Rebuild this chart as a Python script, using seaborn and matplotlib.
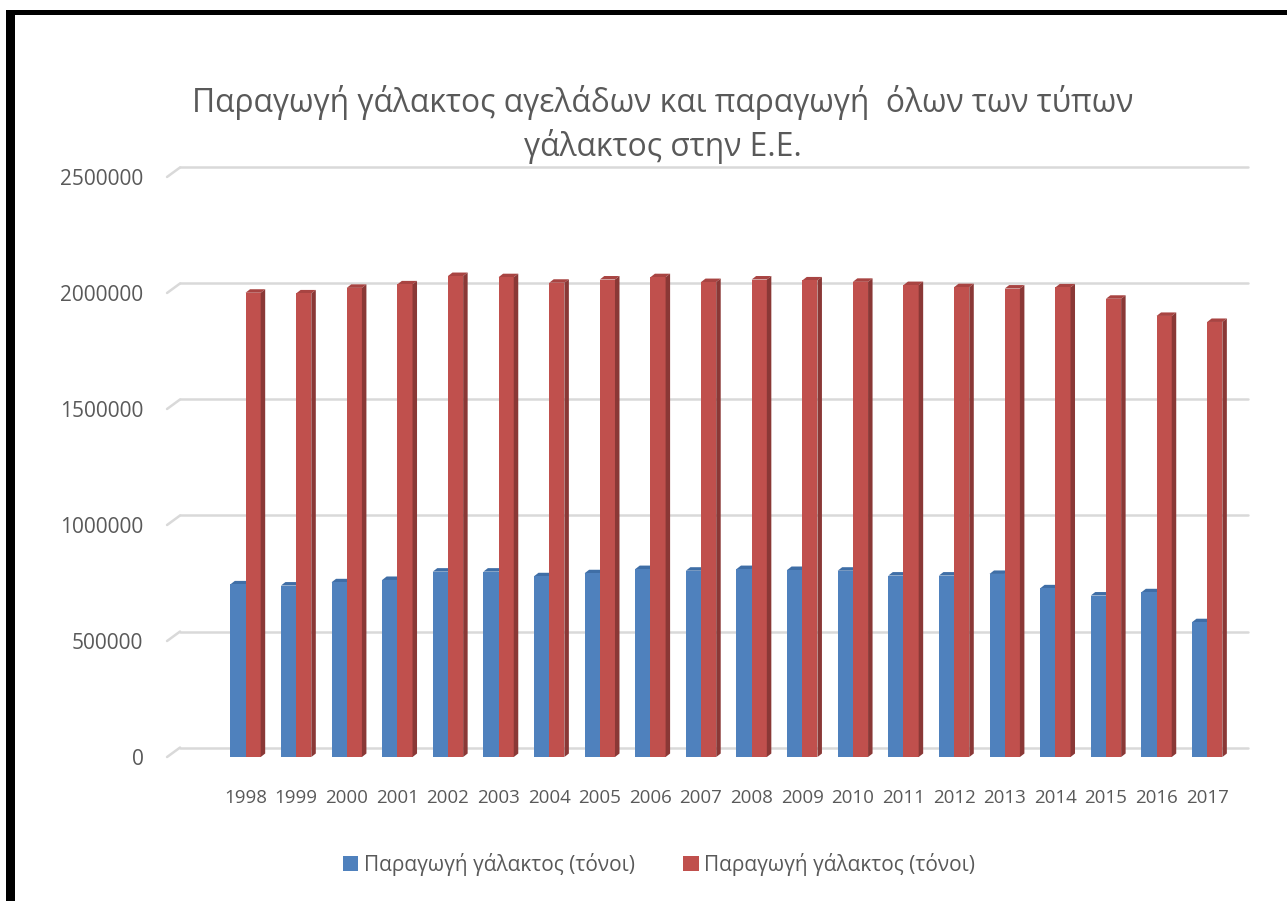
import numpy as np
import pandas as pd
import matplotlib
matplotlib.use("Agg")
import matplotlib.pyplot as plt
from matplotlib.patches import Polygon, Rectangle
from matplotlib.lines import Line2D
import seaborn as sns

# ── Data (tonnes) ───────────────────────────────────────────
years = [str(y) for y in range(1998, 2018)]
cow_milk = [744000, 739000, 753000, 763000, 799000, 799000, 779000, 792000,
            810000, 803000, 810000, 806000, 803000, 782000, 782000, 789000,
            727000, 696000, 710000, 581000]
all_milk = [2001000, 1998000, 2022000, 2037000, 2073000, 2068000, 2044000,
            2058000, 2068000, 2047000, 2058000, 2054000, 2048000, 2034000,
            2025000, 2019000, 2024000, 1975000, 1901000, 1875000]
series_label = "Παραγωγή γάλακτος (τόνοι)"
title = ("Παραγωγή γάλακτος αγελάδων και παραγωγή  όλων των τύπων\n"
         "γάλακτος στην Ε.Ε.")
y_ticks = [0, 500000, 1000000, 1500000, 2000000, 2500000]

df = pd.DataFrame({
    "year": years * 2,
    "value": cow_milk + all_milk,
    "series": ["cow"] * len(years) + ["all"] * len(years),
})

# ── Style ────────────────────────────────────────────────────
sns.set_theme(style="white")
plt.rcParams["font.family"] = ["Open Sans", "DejaVu Sans"]
TXT = "#595959"
BLUE, RED = "#4F81BD", "#C0504D"
SIDE = {BLUE: "#3A6391", RED: "#8A3836"}
TOP = {BLUE: "#3F6EA6", RED: "#A84442"}

fig = plt.figure(figsize=(12.87, 9.01), dpi=100)
ax = fig.add_axes([0.1298, 0.1598, 0.9596 - 0.1298, 0.8036 - 0.1598])

sns.barplot(data=df, x="year", y="value", hue="series", palette=[BLUE, RED],
            width=0.6, saturation=1, linewidth=0, ax=ax)

ax.set_xlim(-1.55, 19.55)
ax.set_ylim(0, 2500000)
ax.set_yticks(y_ticks)
ax.set_yticklabels([str(v) for v in y_ticks])
ax.set_xlabel("")
ax.set_ylabel("")
ax.tick_params(axis="y", labelsize=15, colors=TXT, length=0, pad=17)
ax.tick_params(axis="x", labelsize=13.5, colors=TXT, length=0, pad=23)
sns.despine(ax=ax, left=True, bottom=True)

# ── pseudo-3D: side and top faces of each bar ────────────────
# (blue side face sits behind the red bar, so only red gets one)
dx = 4.5 / 50.6          # ~4.5 px in category units
dy = 3.5 / 232 * 1e6     # ~3.5 px in value units
for p in ax.patches:
    if p.get_height() <= 0:
        continue
    x0, w, h = p.get_x(), p.get_width(), p.get_height()
    col = matplotlib.colors.to_hex(p.get_facecolor())
    z = p.get_zorder()
    if col == RED.lower():
        ax.add_patch(Polygon([(x0 + w, 0), (x0 + w + dx, dy), (x0 + w + dx, h + dy),
                              (x0 + w, h)], closed=True, color=SIDE[RED],
                             lw=0, zorder=z))
    ax.add_patch(Polygon([(x0, h), (x0 + w, h), (x0 + w + dx, h + dy),
                          (x0 + dx, h + dy)], closed=True, color=TOP.get(col.upper(), col),
                         lw=0, zorder=z - 0.1))

# ── back-wall gridlines with slanted left edge ───────────────
trans = ax.get_yaxis_transform()
gx, gy = 13 / 1068, 9.5 / 580 * 2500000
for v in y_ticks:
    ax.add_line(Line2D([0, gx], [v, v + gy], transform=trans, color="#D9D9D9",
                       lw=1.8, clip_on=False, zorder=0))
    ax.add_line(Line2D([gx, 1 + gx], [v + gy, v + gy], transform=trans,
                       color="#D9D9D9", lw=1.8, clip_on=False, zorder=0))

# ── Legend ───────────────────────────────────────────────────
handles, _ = ax.get_legend_handles_labels()
ax.legend(handles, [series_label, series_label], ncol=2, frameon=False,
          loc="center", bbox_to_anchor=(659 / 1287, 1 - 864 / 901),
          bbox_transform=fig.transFigure, fontsize=15, labelcolor=TXT,
          handlelength=0.75, handleheight=0.75, handletextpad=0.25,
          columnspacing=2.35)

# ── Title ────────────────────────────────────────────────────
fig.text(0.5148, 1 - 124.5 / 901, title, ha="center", va="center",
         fontsize=22.9, color=TXT, linespacing=1.36)

# ── Frame drawn around the chart image ───────────────────────
fig.add_artist(Rectangle((6 / 1287, 0), 9 / 1287, 1 - 10 / 901,
                         transform=fig.transFigure, color="black", lw=0))
fig.add_artist(Rectangle((6 / 1287, 1 - 15 / 901), 1 - 6 / 1287, 5 / 901,
                         transform=fig.transFigure, color="black", lw=0))

fig.savefig("out.png", dpi=100)
